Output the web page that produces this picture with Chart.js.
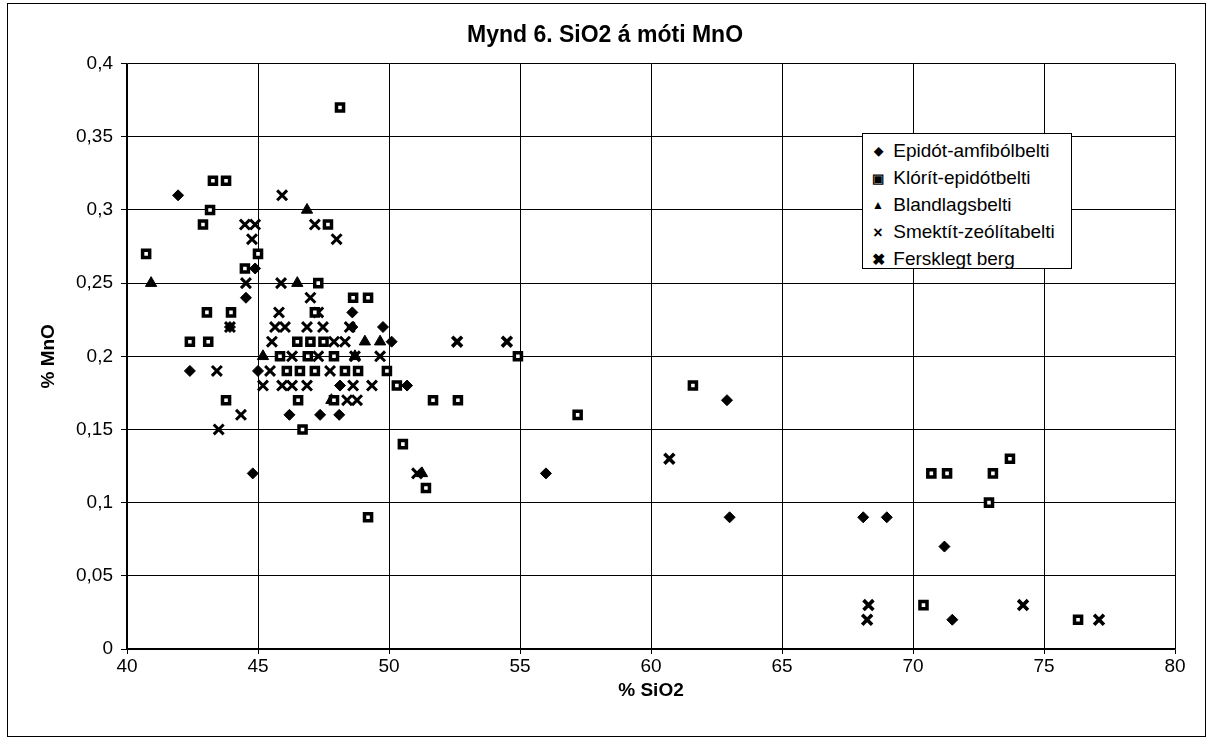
<!DOCTYPE html>
<html>
<head>
<meta charset="utf-8">
<script src="https://cdn.jsdelivr.net/npm/chart.js@4/dist/chart.umd.min.js"></script>
<style>
    body { margin: 0; background: #fff; }
    #wrap { position: relative; width: 1213px; height: 744px; }
    #frame { position: absolute; left: 7px; top: 3px; width: 1197px; height: 732px; border: 1px solid #000; pointer-events: none; }
    #legend { position: absolute; left: 862px; top: 133px; width: 210px; height: 136px; border: 1px solid #000; background: #fff;
        font-family: "Liberation Sans", Arial, sans-serif; font-size: 19px; color: #000; padding-top: 3px; box-sizing: border-box; }
    #legend div { height: 27px; line-height: 27px; white-space: nowrap; }
    #legend span.mk { display: inline-block; width: 20px; text-align: center; margin-left: 5px; vertical-align: middle; }
</style>
</head>
<body>
<div id="wrap">
    <canvas id="mnoChart" width="1213" height="744"></canvas>
    <div id="frame"></div>
    <div id="legend"></div>
</div>
<script>
// Epidót-amfibólbelti
const epidotX = [41.95, 42.4, 44.54, 44.89, 43.93, 45.0, 44.8, 48.6, 48.6, 49.77, 50.1, 48.13, 46.2, 47.37, 48.1, 50.69, 55.99, 62.9, 63.0, 68.1, 69.0, 71.2, 71.5];
const epidotY = [0.31, 0.19, 0.24, 0.26, 0.22, 0.19, 0.12, 0.23, 0.22, 0.22, 0.21, 0.18, 0.16, 0.16, 0.16, 0.18, 0.12, 0.17, 0.09, 0.09, 0.09, 0.07, 0.02];
// Klórít-epidótbelti
const kloritX = [40.73, 43.17, 42.9, 43.28, 43.78, 45.0, 44.5, 43.05, 43.97, 42.4, 43.1, 43.78, 48.13, 47.67, 47.3, 48.63, 49.2, 47.17, 46.5, 47.0, 47.5, 45.84, 46.9, 47.9, 46.1, 46.6, 47.17, 48.32, 48.82, 49.92, 50.3, 46.53, 47.9, 46.7, 51.68, 52.63, 54.92, 50.53, 51.41, 49.2, 57.2, 61.6, 70.7, 71.3, 73.05, 73.7, 72.9, 70.4, 76.3];
const kloritY = [0.27, 0.30, 0.29, 0.32, 0.32, 0.27, 0.26, 0.23, 0.23, 0.21, 0.21, 0.17, 0.37, 0.29, 0.25, 0.24, 0.24, 0.23, 0.21, 0.21, 0.21, 0.20, 0.20, 0.20, 0.19, 0.19, 0.19, 0.19, 0.19, 0.19, 0.18, 0.17, 0.17, 0.15, 0.17, 0.17, 0.20, 0.14, 0.11, 0.09, 0.16, 0.18, 0.12, 0.12, 0.12, 0.13, 0.10, 0.03, 0.02];
// Blandlagsbelti
const blandX = [40.92, 46.87, 46.5, 49.08, 49.66, 45.19, 48.7, 47.8, 51.26];
const blandY = [0.25, 0.30, 0.25, 0.21, 0.21, 0.20, 0.20, 0.17, 0.12];
// Smektít-zeólítabelti
const smektitX = [43.43, 44.35, 43.5, 44.5, 44.89, 44.77, 44.54, 43.93, 45.92, 47.17, 48.0, 45.88, 47.0, 45.8, 47.3, 45.65, 46.03, 46.87, 47.48, 48.5, 45.53, 48.32, 47.9, 46.3, 47.3, 48.7, 49.66, 45.46, 47.75, 45.19, 45.92, 46.3, 46.87, 48.63, 49.35, 48.4, 48.78, 51.07];
const smektitY = [0.19, 0.16, 0.15, 0.29, 0.29, 0.28, 0.25, 0.22, 0.31, 0.29, 0.28, 0.25, 0.24, 0.23, 0.23, 0.22, 0.22, 0.22, 0.22, 0.22, 0.21, 0.21, 0.21, 0.20, 0.20, 0.20, 0.20, 0.19, 0.19, 0.18, 0.18, 0.18, 0.18, 0.18, 0.18, 0.17, 0.17, 0.12];
// Fersklegt berg
const ferskX = [52.6, 54.5, 60.7, 68.3, 68.25, 74.2, 77.1];
const ferskY = [0.21, 0.21, 0.13, 0.03, 0.02, 0.03, 0.02];

const FONT = "'Liberation Sans', Arial, sans-serif";

function pts(xs, ys) {
    return xs.map(function (x, i) { return { x: x, y: ys[i] }; });
}

const datasets = [
    { label: "Epidót-amfibólbelti", data: pts(epidotX, epidotY), pointStyle: "rectRot", pointRadius: 5.5, backgroundColor: "#000", borderColor: "#000", borderWidth: 1, mk: "◆" },
    { label: "Klórít-epidótbelti", data: pts(kloritX, kloritY), pointStyle: "rect", pointRadius: 5, backgroundColor: "#fff", borderColor: "#000", borderWidth: 3.5, mk: "▣" },
    { label: "Blandlagsbelti", data: pts(blandX, blandY), pointStyle: "triangle", pointRadius: 6.5, backgroundColor: "#000", borderColor: "#000", borderWidth: 1, mk: "▲" },
    { label: "Smektít-zeólítabelti", data: pts(smektitX, smektitY), pointStyle: "crossRot", pointRadius: 7, backgroundColor: "#000", borderColor: "#000", borderWidth: 3, mk: "×" },
    { label: "Fersklegt berg", data: pts(ferskX, ferskY), pointStyle: "crossRot", pointRadius: 7, backgroundColor: "#000", borderColor: "#000", borderWidth: 3.6, mk: "✖" }
];

const chart = new Chart(document.getElementById("mnoChart"), {
    type: "scatter",
    data: { datasets: datasets },
    options: {
        responsive: false,
        animation: false,
        devicePixelRatio: 1,
        layout: { padding: { left: 35, right: 38, top: 0, bottom: 40 } },
        plugins: {
            legend: { display: false },
            tooltip: { enabled: false },
            title: {
                display: true,
                text: "Mynd 6. SiO2 á móti MnO",
                color: "#000",
                font: { family: FONT, size: 23, weight: "bold" },
                padding: { top: 22, bottom: 14 }
            }
        },
        scales: {
            x: {
                type: "linear",
                min: 40,
                max: 80,
                afterFit: function (s) { s.height = 55; },
                ticks: { stepSize: 5, color: "#000", font: { family: FONT, size: 19 }, padding: 1 },
                grid: { color: "#000", lineWidth: 1, tickLength: 5 },
                border: { color: "#000", width: 1.5 },
                title: { display: true, text: "% SiO2", color: "#000", font: { family: FONT, size: 19, weight: "bold" }, padding: { top: 2, bottom: 2 } }
            },
            y: {
                min: 0,
                max: 0.4,
                afterFit: function (s) { s.width = 92; },
                ticks: {
                    stepSize: 0.05,
                    color: "#000",
                    font: { family: FONT, size: 19 },
                    padding: 8,
                    callback: function (v) { return String(Math.round(v * 100) / 100).replace(".", ","); }
                },
                grid: { color: "#000", lineWidth: 1, tickLength: 6 },
                border: { color: "#000", width: 1.5 },
                title: { display: true, text: "% MnO", color: "#000", font: { family: FONT, size: 19, weight: "bold" }, padding: { top: 2, bottom: 2 } }
            }
        }
    }
});

// legend inside the plot, like the original
const legendBox = document.getElementById("legend");
datasets.forEach(function (d) {
    const row = document.createElement("div");
    const mk = document.createElement("span");
    mk.className = "mk";
    mk.textContent = d.mk;
    mk.style.fontSize = d.mk === "▣" ? "13px" : (d.mk === "◆" || d.mk === "▲") ? "12px" : "16px";
    mk.style.fontWeight = "bold";
    row.appendChild(mk);
    row.appendChild(document.createTextNode(" " + d.label));
    legendBox.appendChild(row);
});
</script>
</body>
</html>
